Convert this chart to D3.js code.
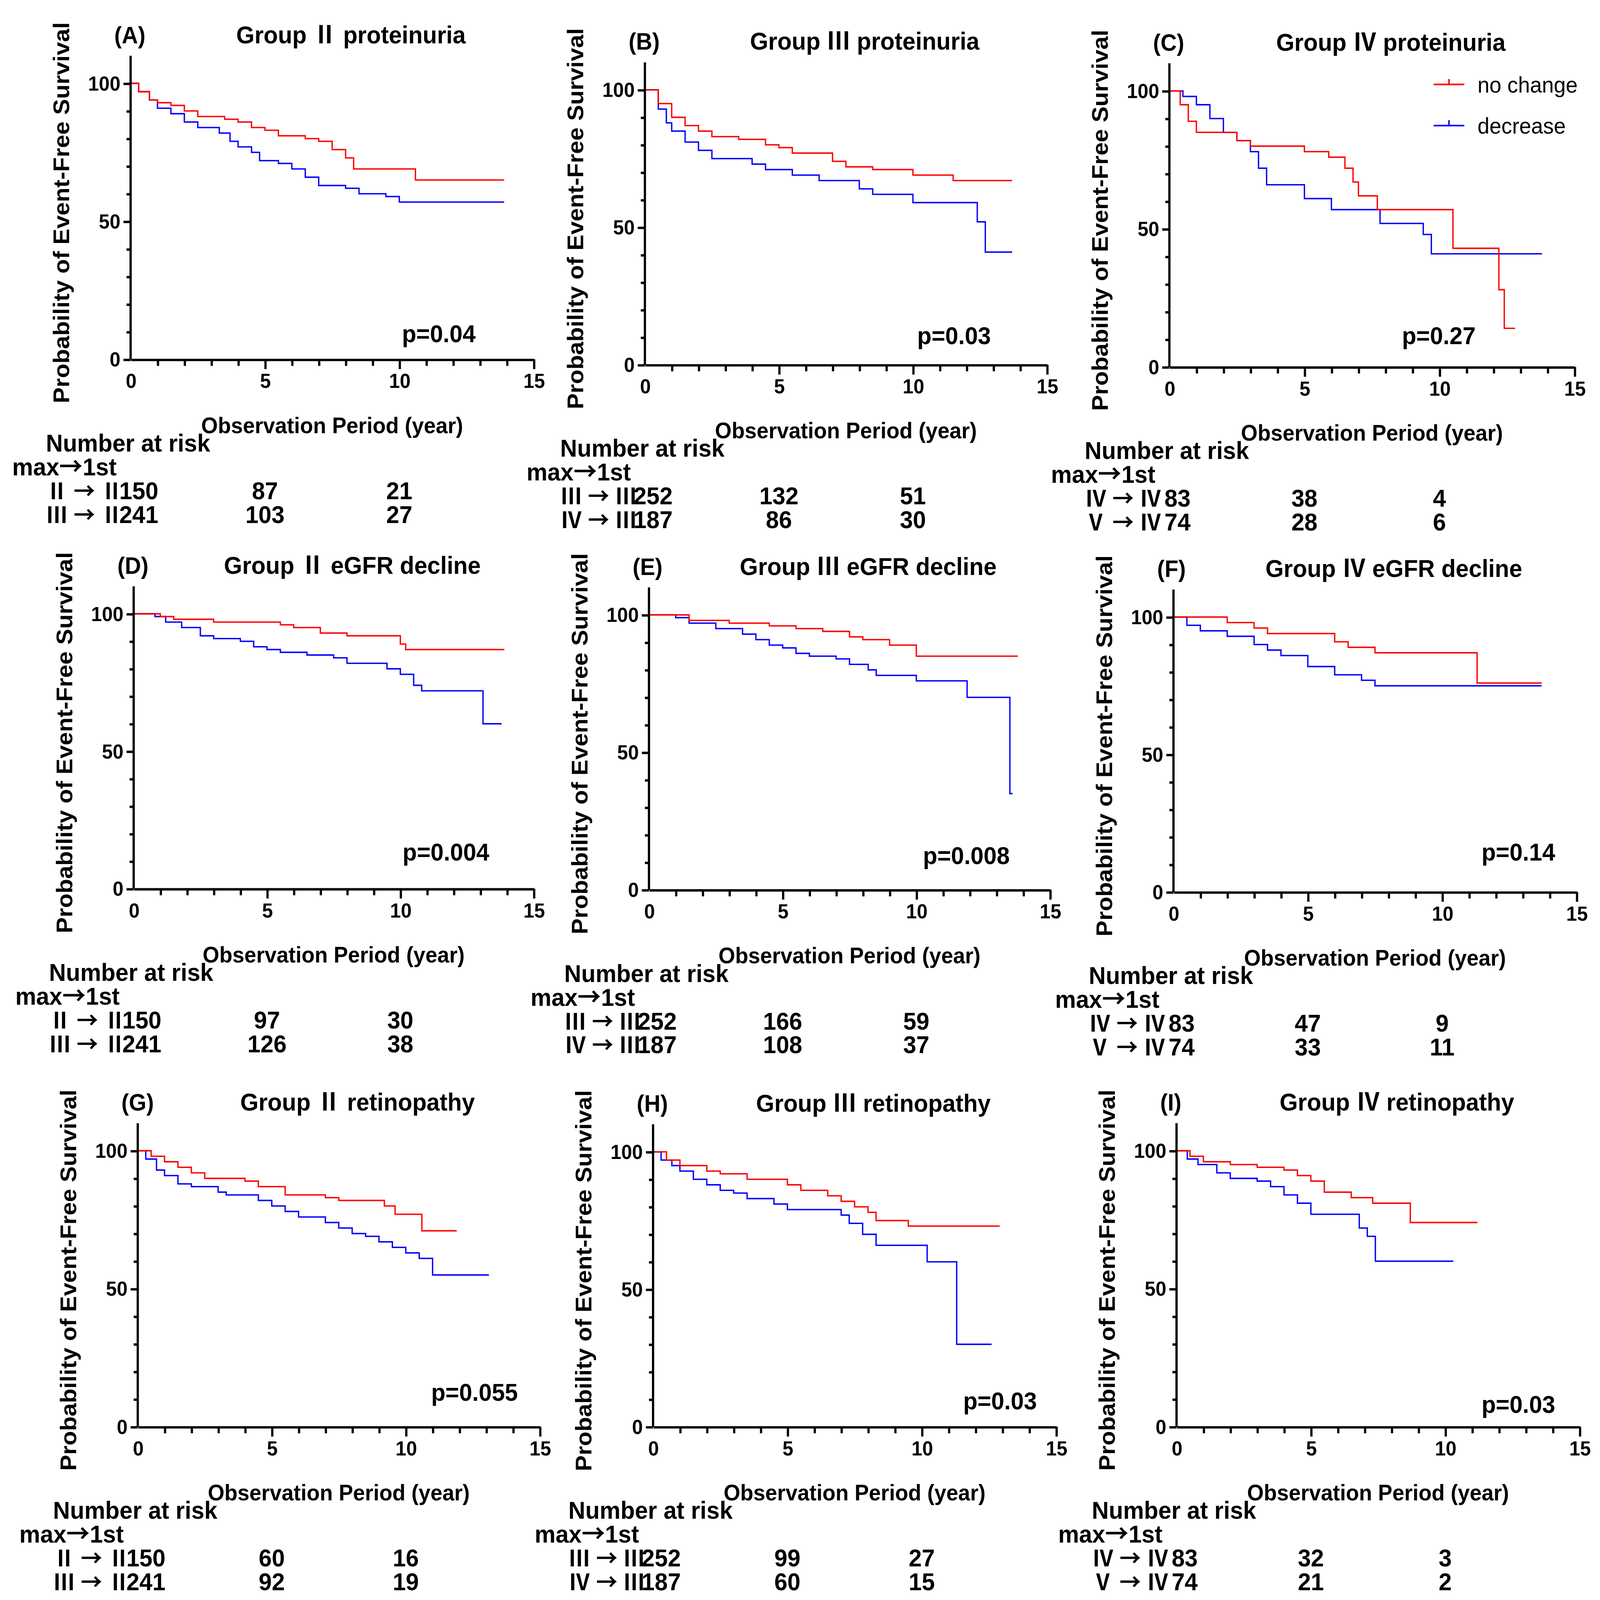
<!DOCTYPE html>
<html>
<head>
<meta charset="utf-8">
<script src="https://cdn.jsdelivr.net/npm/d3@7"></script>
<style>
  html, body { margin: 0; padding: 0; background: #fff; overflow: hidden; }
  svg { display: block; width: 100vw; height: 100vh; }
  text { font-family: "Liberation Sans", Arial, sans-serif; }
</style>
</head>
<body>
<svg id="chart"></svg>
<script>
// ---- data ----
const letters = ["A", "B", "C", "D", "E", "F", "G", "H", "I"];
const titles = [
  "Group Ⅱ proteinuria", "Group Ⅲ proteinuria", "Group Ⅳ proteinuria",
  "Group Ⅱ eGFR decline", "Group Ⅲ eGFR decline", "Group Ⅳ eGFR decline",
  "Group Ⅱ retinopathy", "Group Ⅲ retinopathy", "Group Ⅳ retinopathy"
];
const pValues = ["p=0.04", "p=0.03", "p=0.27", "p=0.004", "p=0.008", "p=0.14", "p=0.055", "p=0.03", "p=0.03"];
const riskLabels = [["Ⅱ → Ⅱ", "Ⅲ → Ⅱ"], ["Ⅲ → Ⅲ", "Ⅳ → Ⅲ"], ["Ⅳ → Ⅳ", "Ⅴ → Ⅳ"]];
const riskTimes = [0, 5, 10];
const riskNoChange = [[150, 87, 21], [252, 132, 51], [83, 38, 4],
                      [150, 97, 30], [252, 166, 59], [83, 47, 9],
                      [150, 60, 16], [252, 99, 27], [83, 32, 3]];
const riskDecrease = [[241, 103, 27], [187, 86, 30], [74, 28, 6],
                      [241, 126, 38], [187, 108, 37], [74, 33, 11],
                      [241, 92, 19], [187, 60, 15], [74, 21, 2]];

// step curves: [time, survival %]; last point = end of follow-up
const noChange = [
  [[0,100],[0.3,97],[0.7,94],[1,93],[1.5,92],[2,90],[2.5,88],[3.5,87],[4,86],[4.5,84],[5,83],[5.5,81],[6.5,80],[7,79],[7.5,76],[8,73],[8.3,69],[10.6,65],[13.9,65]],
  [[0,100],[0.5,95],[1,90],[1.5,87],[2,85],[2.5,83],[3.5,82],[4.5,80],[5,79],[5.5,77],[7,74],[7.5,72],[8.5,71],[10,69],[11.5,67],[13.7,67]],
  [[0,100],[0.4,95],[0.7,89],[1,85],[2.5,82],[3,80],[5,78],[5.9,76],[6.5,72],[6.8,67],[7,62],[7.7,57],[10.5,43],[12.2,28],[12.4,14],[12.8,14]],
  [[0,100],[1,99],[1.5,98],[3,97],[5.5,96],[6,95],[7,93],[8,92],[10,89],[10.2,87],[13.9,87]],
  [[0,100],[1.5,98],[3,97],[4.5,96],[5.5,95],[6.5,94],[7.5,92],[8,91],[9,89],[10,85],[13.8,85]],
  [[0,100],[2,98],[3,96],[3.5,94],[6,91],[6.5,89],[7.5,87],[11.3,76],[13.7,76]],
  [[0,100],[0.5,98],[1,96],[1.5,94],[2,92],[2.5,90],[4,89],[4.5,87],[5.5,84],[7,83],[7.5,82],[9.2,80],[9.6,77],[10.6,71],[11.9,71]],
  [[0,100],[0.5,97],[1,95],[2,93],[2.5,92],[3.5,90],[5,88],[5.5,86],[6.5,84],[7,82],[7.5,80],[8,78],[8.3,75],[9.5,73],[12.9,73]],
  [[0,100],[0.5,98],[1,96],[2,95],[3,94],[4,93],[4.5,91],[5,89],[5.5,85],[6.5,83],[7.3,81],[8.7,74],[11.2,74]]
];
const decrease = [
  [[0,100],[0.3,97],[0.7,94],[1,91],[1.5,89],[2,86],[2.5,84],[3.3,82],[3.7,79],[4,77],[4.5,75],[4.8,72],[5.5,71],[6,69],[6.5,66],[7,63],[8,62],[8.5,60],[9.5,59],[10,57],[13.9,57]],
  [[0,100],[0.5,93],[0.8,88],[1,85],[1.5,81],[2,78],[2.5,75],[4,73],[4.5,71],[5.5,69],[6.5,67],[8,64],[8.5,62],[10,59],[12.4,52],[12.7,41],[13.7,41]],
  [[0,100],[0.5,98],[1,95],[1.5,90],[2,85],[2.5,82],[3,78],[3.3,72],[3.6,66],[5,61],[6,57],[7.8,52],[9.4,48],[9.7,41],[13.8,41]],
  [[0,100],[0.8,99],[1.2,97],[1.8,95],[2.5,92],[3,91],[4,90],[4.5,88],[5,87],[5.5,86],[6.5,85],[7.5,84],[8,82],[9.5,80],[10,78],[10.5,74],[10.8,72],[13.1,60],[13.8,60]],
  [[0,100],[1,99],[1.5,97],[2.5,95],[3.5,93],[4,91],[4.5,89],[5,88],[5.5,86],[6,85],[7,84],[7.5,82],[8.2,80],[8.5,78],[10,76],[11.9,70],[13.5,35],[13.6,35]],
  [[0,100],[0.5,97],[1,95],[2,93],[3,90],[3.5,88],[4,86],[5,82],[6,79],[7,77],[7.5,75],[13.7,75]],
  [[0,100],[0.3,97],[0.7,93],[1,91],[1.5,88],[2,87],[3,85],[3.3,84],[4.5,82],[5,80],[5.5,78],[6,76],[7,74],[7.5,72],[8,70],[8.5,69],[9,67],[9.5,65],[10,63],[10.5,61],[11,55],[13.1,55]],
  [[0,100],[0.3,97],[0.7,95],[1,93],[1.5,90],[2,88],[2.5,86],[3,85],[3.5,83],[4.5,81],[5,79],[7,77],[7.3,74],[7.8,70],[8.3,66],[10.2,60],[11.3,30],[12.6,30]],
  [[0,100],[0.4,97],[0.8,95],[1.5,92],[2,90],[3,89],[3.5,87],[4,84],[4.5,81],[5,77],[6.8,72],[7.1,69],[7.4,60],[10.3,60]]
];
const xTicks = [0, 5, 10, 15];
const yTicks = [0, 50, 100];

// ---- layout (in reference units, 1568 x 1478 view) ----
const VW = 1568, VH = 1478;
// x0, x15, y100, y0, p-value centre x, p-value y
const layout = [
  [128, 523, 77, 332, 430, 308], [632, 1026, 83, 337, 935, 310], [1146, 1543, 84, 339, 1410, 310],
  [131, 523, 567, 821, 437, 787], [636, 1029, 568, 822, 947, 790], [1150, 1545, 570, 824, 1488, 787],
  [135, 529, 1063, 1318, 465, 1286], [640, 1035, 1064, 1318, 980, 1294], [1153, 1548, 1063, 1318, 1488, 1297]
];
const RED = "#ff0000", BLUE = "#0000ff";
const CJK = "'Noto Sans CJK JP'";

const svg = d3.select("#chart")
  .attr("viewBox", `0 0 ${VW} ${VH}`)
  .attr("preserveAspectRatio", "none");
const root = svg.append("g");

// put Roman numerals and arrows in a CJK font so they are full width
function richText(sel, str) {
  str.split(/([Ⅰ-Ⅻ→])/).filter(s => s.length).forEach(part => {
    const t = sel.append("tspan").text(part);
    if (/[Ⅰ-Ⅻ→]/.test(part)) t.style("font-family", CJK);
  });
}

layout.forEach((L, i) => {
  const [x0, x1, y100, y0, px, py] = L;
  const x = d3.scaleLinear().domain([0, 15]).range([x0, x1]);
  const y = d3.scaleLinear().domain([0, 100]).range([y0, y100]);
  const g = root.append("g");

  // curves
  const line = d3.line().x(d => x(d[0])).y(d => y(d[1])).curve(d3.curveStepAfter);
  g.append("path").attr("d", line(decrease[i])).attr("fill", "none").attr("stroke", BLUE).attr("stroke-width", 1.3);
  g.append("path").attr("d", line(noChange[i])).attr("fill", "none").attr("stroke", RED).attr("stroke-width", 1.3);

  // axes
  const xa = g.append("g").attr("transform", `translate(0,${y0})`)
    .call(d3.axisBottom(x).tickValues(xTicks).tickSize(9).tickSizeOuter(0).tickPadding(4));
  xa.selectAll(".tick").filter(d => d === 0).select("line").remove();
  const xm = g.append("g").attr("transform", `translate(0,${y0})`)
    .call(d3.axisBottom(x).tickValues(d3.range(1, 15).filter(v => v % 5)).tickSize(6).tickFormat("").tickSizeOuter(0));
  xm.select(".domain").remove();
  const ya = g.append("g").attr("transform", `translate(${x0},0)`)
    .call(d3.axisLeft(y).tickValues(yTicks).tickSize(7).tickSizeOuter(0).tickPadding(3));
  ya.select(".domain").attr("d", `M0,${y0}V${y(110)}`);
  const ym = g.append("g").attr("transform", `translate(${x0},0)`)
    .call(d3.axisLeft(y).tickValues([10, 20, 30, 40, 60, 70, 80, 90]).tickSize(4).tickFormat("").tickSizeOuter(0));
  ym.select(".domain").remove();
  [xa, xm, ya, ym].forEach(a => {
    a.selectAll(".domain, line").attr("stroke", "#000").attr("stroke-width", 2.2);
    a.selectAll("text").attr("font-size", 19).attr("font-weight", "bold").attr("fill", "#000");
  });

  // labels
  const yl = x0 - 68, ym0 = (y0 + y100) / 2 - 8;
  g.append("text").attr("x", yl).attr("y", ym0).attr("dy", "0.35em")
    .attr("transform", `rotate(-90,${yl},${ym0})`)
    .attr("text-anchor", "middle").attr("font-size", 22).attr("font-weight", "bold")
    .text("Probability of Event-Free Survival");
  g.append("text").attr("x", x(7.5)).attr("y", y0 + 68)
    .attr("text-anchor", "middle").attr("font-size", 21).attr("font-weight", "bold")
    .text("Observation Period (year)");
  g.append("text").attr("x", x0 - 16).attr("y", y100 - 37)
    .attr("font-size", 22).attr("font-weight", "bold").text(`(${letters[i]})`);
  richText(g.append("text").attr("x", x(8.2)).attr("y", y100 - 37)
    .attr("text-anchor", "middle").attr("font-size", 23).attr("font-weight", "bold"), titles[i]);
  g.append("text").attr("x", px).attr("y", py).attr("dy", "0.35em")
    .attr("text-anchor", "middle").attr("font-size", 23).attr("font-weight", "bold").text(pValues[i]);

  // number at risk
  const t0 = y0 + 85;
  const rt = g.append("g").attr("font-size", 23).attr("font-weight", "bold");
  rt.append("text").attr("x", x0 - 83).attr("y", t0).text("Number at risk");
  richText(rt.append("text").attr("x", x0 - 116).attr("y", t0 + 22), "max→1st");
  [riskNoChange[i], riskDecrease[i]].forEach((vals, r) => {
    const yy = t0 + 44 + r * 22;
    richText(rt.append("text").attr("x", x0 - 8).attr("y", yy).attr("text-anchor", "end")
      .attr("font-size", 21), riskLabels[i % 3][r]);
    vals.forEach((v, k) => {
      rt.append("text").attr("x", x(riskTimes[k]) + (k === 0 ? 8 : 0)).attr("y", yy)
        .attr("text-anchor", "middle").text(v);
    });
  });
});

// legend (panel C)
const legend = root.append("g").attr("font-size", 21);
[["no change", RED, 78], ["decrease", BLUE, 116]].forEach(([label, c, ly]) => {
  legend.append("line").attr("x1", 1405).attr("x2", 1435).attr("y1", ly).attr("y2", ly)
    .attr("stroke", c).attr("stroke-width", 1.5);
  legend.append("line").attr("x1", 1420).attr("x2", 1420).attr("y1", ly - 5).attr("y2", ly)
    .attr("stroke", c).attr("stroke-width", 1.5);
  legend.append("text").attr("x", 1448).attr("y", ly).attr("dy", "0.35em").text(label);
});
</script>
</body>
</html>
